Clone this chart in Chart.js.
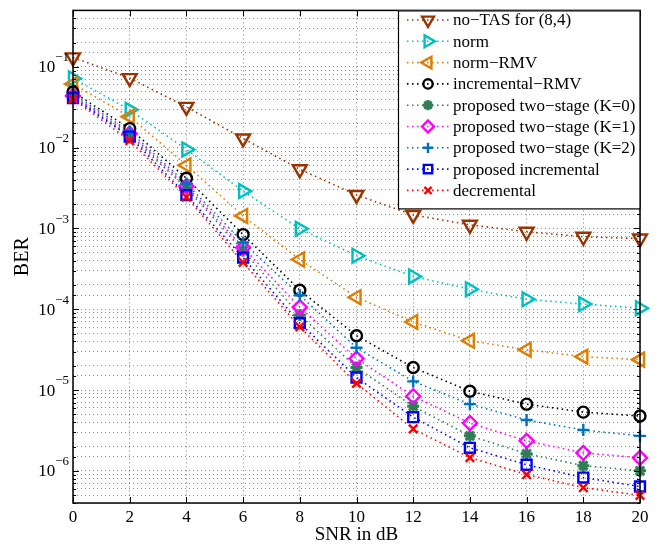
<!DOCTYPE html>
<html>
<head>
<meta charset="utf-8">
<script src="https://cdn.jsdelivr.net/npm/chart.js@4/dist/chart.umd.min.js"></script>
<style>
  html, body { margin: 0; padding: 0; background: #fff; }
  #wrap { width: 664px; height: 547px; }
</style>
</head>
<body>
<div id="wrap"><canvas id="berChart" width="664" height="547"></canvas></div>
<script>
// SNR points (dB)
const snr = [0, 2, 4, 6, 8, 10, 12, 14, 16, 18, 20];

// BER values
const noTas    = [0.131, 0.0726, 0.032, 0.013, 0.0054, 0.0026, 0.00147, 0.00111, 0.00091, 0.00079, 0.00075];
const normSel  = [0.072, 0.0294, 0.0095, 0.0029, 0.00099, 0.00046, 0.000255, 0.000177, 0.000133, 0.000116, 0.000103];
const normRmv  = [0.0614, 0.0242, 0.00605, 0.00143, 0.000413, 0.000141, 6.97e-5, 4.07e-5, 3.16e-5, 2.59e-5, 2.38e-5];
const incRmv   = [0.0489, 0.0172, 0.00419, 0.00084, 0.000172, 4.7e-5, 1.9e-5, 9.66e-6, 6.69e-6, 5.33e-6, 4.77e-6];
const twoK0    = [0.0425, 0.0141, 0.00316, 0.00053, 8.5e-5, 1.9e-5, 6.3e-6, 2.71e-6, 1.63e-6, 1.16e-6, 1.0e-6];
const twoK1    = [0.0437, 0.0149, 0.00334, 0.00058, 0.000106, 2.45e-5, 8.38e-6, 3.91e-6, 2.35e-6, 1.67e-6, 1.45e-6];
const twoK2    = [0.046, 0.0158, 0.0036, 0.00067, 0.000149, 3.34e-5, 1.28e-5, 6.69e-6, 4.26e-6, 3.2e-6, 2.71e-6];
const propInc  = [0.0412, 0.0137, 0.00259, 0.000436, 6.76e-5, 1.43e-5, 4.62e-6, 1.93e-6, 1.19e-6, 8.26e-7, 6.4e-7];
const decr     = [0.0402, 0.0122, 0.00245, 0.00038, 6.04e-5, 1.21e-5, 3.3e-6, 1.46e-6, 9.0e-7, 6.2e-7, 4.97e-7];

const seriesNames = [
  'no\u2212TAS for (8,4)', 'norm', 'norm\u2212RMV', 'incremental\u2212RMV',
  'proposed two\u2212stage (K=0)', 'proposed two\u2212stage (K=1)',
  'proposed two\u2212stage (K=2)', 'proposed incremental', 'decremental'
];

const FONT = '"Liberation Serif", "Times New Roman", serif';

// style per series: colour, marker, rotation, radius
const styles = [
  { color: '#993300', style: 'triangle', rot: 180, r: 8 },
  { color: '#00BFBF', style: 'triangle', rot: 90,  r: 8 },
  { color: '#DE7D00', style: 'triangle', rot: 270, r: 8 },
  { color: '#000000', style: 'circle',   rot: 0,   r: 5.5 },
  { color: '#2E7D55', style: 'star',     rot: 0,   r: 6 },
  { color: '#FF00FF', style: 'rectRot',  rot: 0,   r: 7 },
  { color: '#0072BD', style: 'cross',    rot: 0,   r: 6 },
  { color: '#0000FF', style: 'rect',     rot: 0,   r: 7 },
  { color: '#FF0000', style: 'crossRot', rot: 0,   r: 6 }
];

const values = [noTas, normSel, normRmv, incRmv, twoK0, twoK1, twoK2, propInc, decr];

const datasets = values.map(function (vals, i) {
  const s = styles[i];
  return {
    label: seriesNames[i],
    data: snr.map(function (x, j) { return { x: x, y: vals[j] }; }),
    borderColor: s.color,
    backgroundColor: 'rgba(0,0,0,0)',
    borderWidth: 1.6,
    borderDash: [1.5, 3.5],
    pointStyle: s.style,
    pointRotation: s.rot,
    pointRadius: s.r,
    pointBorderWidth: s.style === 'star' ? 3 : 2.4,
    pointBorderColor: s.color,
    pointBackgroundColor: 'rgba(0,0,0,0)',
    tension: 0,
    clip: false,
    order: values.length - i
  };
});

// box, inward ticks, y labels with exponents, legend
const decorations = {
  id: 'decorations',
  afterDraw(chart) {
    const ctx = chart.ctx;
    const a = chart.chartArea;
    const xs = chart.scales.x, ys = chart.scales.y;
    ctx.save();
    ctx.strokeStyle = '#000';
    ctx.lineWidth = 1;
    ctx.setLineDash([]);
    ctx.beginPath();
    // y ticks on left and right
    ys.ticks.forEach(function (t) {
      const y = Math.round(ys.getPixelForValue(t.value)) + 0.5;
      const e = Math.log10(t.value);
      const major = Math.abs(e - Math.round(e)) < 1e-6;
      const len = major ? 6 : 3;
      ctx.moveTo(a.left, y); ctx.lineTo(a.left + len, y);
      ctx.moveTo(a.right, y); ctx.lineTo(a.right - len, y);
    });
    xs.ticks.forEach(function (t) {
      const x = Math.round(xs.getPixelForValue(t.value)) + 0.5;
      ctx.moveTo(x, a.bottom); ctx.lineTo(x, a.bottom - 6);
      ctx.moveTo(x, a.top); ctx.lineTo(x, a.top + 6);
    });
    ctx.stroke();
    ctx.lineWidth = 1.5;
    ctx.strokeRect(a.left, a.top, a.right - a.left, a.bottom - a.top);

    // y labels 10^k
    ctx.fillStyle = '#000';
    ctx.textBaseline = 'middle';
    ys.ticks.forEach(function (t) {
      const e = Math.log10(t.value);
      if (Math.abs(e - Math.round(e)) > 1e-6) return;
      const y = ys.getPixelForValue(t.value);
      const sup = '\u2212' + Math.abs(Math.round(e));
      ctx.font = '13px ' + FONT;
      const sw = ctx.measureText(sup).width;
      const xr = a.left - 4;
      ctx.textAlign = 'left';
      ctx.fillText(sup, xr - sw, y - 9);
      ctx.font = '17px ' + FONT;
      ctx.textAlign = 'right';
      ctx.fillText('10', xr - sw, y + 1);
    });

    // legend
    const lx = 398, ly = a.top, lw = a.right - 398, lh = 198;
    ctx.fillStyle = '#fff';
    ctx.fillRect(lx, ly, lw, lh);
    ctx.strokeStyle = '#000';
    ctx.lineWidth = 1.2;
    ctx.strokeRect(lx + 0.5, ly + 0.5, lw - 0.5, lh);
    chart.data.datasets.forEach(function (ds, i) {
      const y = 20 + i * 21.3;
      ctx.strokeStyle = ds.borderColor;
      ctx.lineWidth = 1.6;
      ctx.setLineDash([1.5, 3.5]);
      ctx.beginPath();
      ctx.moveTo(407, y); ctx.lineTo(449, y);
      ctx.stroke();
      ctx.setLineDash([]);
      ctx.lineWidth = ds.pointBorderWidth;
      ctx.fillStyle = 'rgba(0,0,0,0)';
      if (Chart.helpers && Chart.helpers.drawPoint) {
        Chart.helpers.drawPoint(ctx, {
          pointStyle: ds.pointStyle,
          rotation: ds.pointRotation,
          radius: ds.pointRadius * 0.85,
          borderWidth: ds.pointBorderWidth
        }, 428, y);
      }
      ctx.fillStyle = '#000';
      ctx.font = '17px ' + FONT;
      ctx.textAlign = 'left';
      ctx.textBaseline = 'middle';
      ctx.fillText(ds.label, 453, y + 1);
    });
    ctx.restore();
  }
};

const config = {
  type: 'line',
  data: { datasets: datasets },
  options: {
    responsive: false,
    animation: false,
    events: [],
    layout: { padding: { top: 5, right: 24, left: 0, bottom: 0 } },
    plugins: { legend: { display: false }, tooltip: { enabled: false } },
    scales: {
      x: {
        type: 'linear',
        min: 0, max: 20,
        ticks: { stepSize: 2, color: '#000', font: { family: FONT, size: 17 }, padding: 4, maxRotation: 0 },
        grid: { color: 'rgba(0,0,0,0.5)', lineWidth: 1, drawTicks: false },
        border: { display: false, dash: [1, 3] },
        title: { display: true, text: 'SNR in dB', color: '#000', font: { family: FONT, size: 19 }, padding: { top: 0, bottom: 1 } },
        afterFit(scale) { scale.height = 44; }
      },
      y: {
        type: 'logarithmic',
        min: 4e-7, max: 0.5,
        ticks: { display: false },
        grid: { color: 'rgba(0,0,0,0.45)', lineWidth: 1, drawTicks: false },
        border: { display: false, dash: [1, 3] },
        title: { display: true, text: 'BER', color: '#000', font: { family: FONT, size: 20 }, padding: { top: 11, bottom: 0 } },
        afterFit(scale) { scale.width = 73; }
      }
    }
  },
  plugins: [decorations]
};

const chartCanvas = document.getElementById('berChart');
var berChart = new Chart(chartCanvas, config);
</script>
</body>
</html>
